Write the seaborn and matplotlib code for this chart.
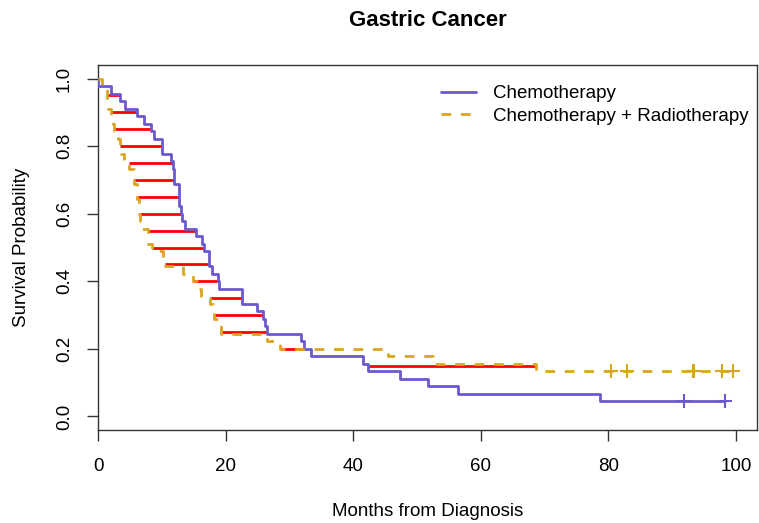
import numpy as np
import pandas as pd
import matplotlib
matplotlib.use("Agg")
import matplotlib.pyplot as plt
import seaborn as sns

sns.set_theme(style="white")
plt.rcParams['font.family'] = ['Liberation Sans', 'DejaVu Sans']
plt.rcParams['text.color'] = 'black'
plt.rcParams['axes.labelcolor'] = 'black'
plt.rcParams['xtick.color'] = 'black'
plt.rcParams['ytick.color'] = 'black'

# survival times in days, deaths and censored follow-up per arm
chemo_deaths = [1, 63, 105, 129, 182, 216, 250, 262, 301, 301, 342, 354, 356, 358,
                380, 383, 383, 388, 394, 408, 460, 489, 499, 523, 524, 535, 562, 569,
                675, 676, 748, 778, 786, 797, 955, 968, 1000, 1245, 1271, 1420, 1551,
                1694, 2363]
chemo_censored = [2754, 2950]
combo_deaths = [17, 42, 44, 48, 60, 72, 74, 95, 103, 108, 122, 144, 167, 170, 183,
                185, 193, 195, 197, 208, 234, 235, 254, 307, 315, 401, 445, 464, 484,
                528, 542, 547, 577, 580, 795, 855, 1366, 1577, 2060]
combo_censored = [2412, 2486, 2796, 2802, 2934, 2988]

group_names = ["Chemotherapy", "Chemotherapy + Radiotherapy"]
quantile_levels = [0.95, 0.90, 0.85, 0.80, 0.75, 0.70, 0.65, 0.60, 0.55,
                   0.50, 0.45, 0.40, 0.35, 0.30, 0.25, 0.20, 0.15]
x_ticks = [0, 20, 40, 60, 80, 100]
y_ticks = [0.0, 0.2, 0.4, 0.6, 0.8, 1.0]

DAYS_PER_MONTH = 30.0


def km_curve(deaths, censored):
    # Kaplan-Meier estimate as step points (months, survival)
    all_t = np.array(deaths + censored, dtype=float)
    s = 1.0
    t_out, s_out = [0.0], [1.0]
    for t in sorted(set(deaths)):
        n_risk = (all_t >= t).sum()
        d = deaths.count(t)
        s *= 1 - d / n_risk
        t_out.append(t)
        s_out.append(s)
    t_out.append(all_t.max())
    s_out.append(s)
    return pd.DataFrame({'months': np.array(t_out) / DAYS_PER_MONTH, 'surv': s_out})


def surv_at(df, t):
    return df.loc[df['months'] <= t, 'surv'].iloc[-1]


def quantile_time(df, p):
    hit = df.loc[df['surv'] <= p + 1e-9, 'months']
    return hit.iloc[0] if len(hit) else None


km_chemo = km_curve(chemo_deaths, chemo_censored)
km_combo = km_curve(combo_deaths, combo_censored)

fig = plt.figure(figsize=(7.59, 5.23), dpi=100)
ax = fig.add_axes([98 / 759, 1 - 430 / 523, (757 - 98) / 759, (430 - 65) / 523])

# horizontal distances between the curves at each survival level
for p in quantile_levels:
    q1 = quantile_time(km_chemo, p)
    q2 = quantile_time(km_combo, p)
    if q1 is not None and q2 is not None:
        ax.hlines(p, min(q1, q2), max(q1, q2), color='red', lw=2, zorder=2)

purple = '#6A5ACD'
gold = '#DAA520'
sns.lineplot(data=km_chemo, x='months', y='surv', drawstyle='steps-post',
             estimator=None, sort=False, color=purple, lw=2.0, ax=ax,
             label=group_names[0], zorder=3)
sns.lineplot(data=km_combo, x='months', y='surv', drawstyle='steps-post',
             estimator=None, sort=False, color=gold, lw=2.0, linestyle=(0, (3.5, 3.5)),
             ax=ax, label=group_names[1], zorder=3)

# censoring marks
for df, cens, col in [(km_chemo, chemo_censored, purple), (km_combo, combo_censored, gold)]:
    cm = np.array(cens) / DAYS_PER_MONTH
    ax.plot(cm, [surv_at(df, t) for t in cm], ls='none', marker='+',
            ms=10, mew=1.5, color=col, zorder=4)

ax.set_xlim(0, 103.3)
ax.set_ylim(-0.04, 1.04)
ax.set_xticks(x_ticks)
ax.set_xticklabels([str(v) for v in x_ticks])
ax.set_yticks(y_ticks)
ax.set_yticklabels([f'{v:.1f}' for v in y_ticks], rotation=90, va='center')
ax.tick_params(direction='out', length=8, width=1, color='#333333',
               labelsize=13.5, pad=12, bottom=True, left=True)
ax.tick_params(axis='y', pad=10)
for sp in ax.spines.values():
    sp.set_visible(True)
    sp.set_color('#333333')
    sp.set_linewidth(1)

ax.set_xlabel('Months from Diagnosis', fontsize=13.5, labelpad=20)
ax.set_ylabel('Survival Probability', fontsize=13.5, labelpad=19)
fig.text(428 / 759, 1 - 20 / 523, 'Gastric Cancer', fontsize=16, fontweight='bold',
         ha='center', va='center')

ax.legend(loc='upper left', bbox_to_anchor=(0.52, 0.945), frameon=False,
          fontsize=13.5, handlelength=1.9, handletextpad=0.9, labelspacing=0.28,
          borderpad=0, borderaxespad=0)

fig.savefig('out.png', dpi=100)
